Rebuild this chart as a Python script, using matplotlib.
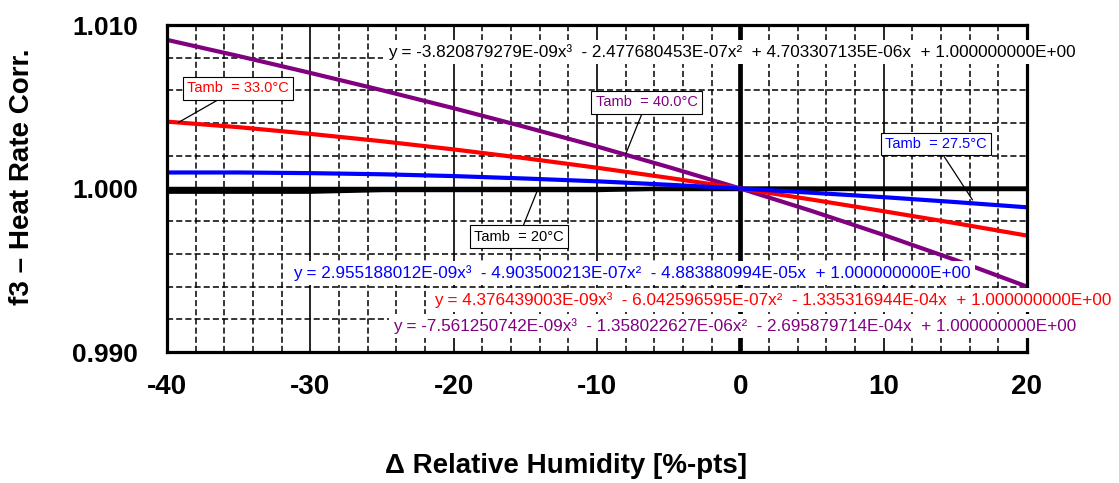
import matplotlib
matplotlib.use("Agg")
import matplotlib.pyplot as plt
from matplotlib.ticker import MultipleLocator, FixedLocator

plt.rcParams['font.family'] = ['Liberation Sans', 'DejaVu Sans']
plt.rcParams['axes.unicode_minus'] = False

# Change in relative humidity [%-pts]
delta_rh = [-40, -35, -30, -25, -20, -15, -10, -5, 0, 5, 10, 15, 20]

# Heat rate correction factor f3 per ambient temperature
f3_20 = [0.9998, 0.9998, 0.9998, 0.9999, 0.9999, 0.9999, 0.9999, 1.0000,
         1.0000, 1.0000, 1.0000, 1.0000, 1.0000]
f3_275 = [1.00098, 1.00098, 1.00094, 1.00087, 1.00076, 1.00061, 1.00044,
          1.00023, 1.00000, 0.99974, 0.99947, 0.99917, 0.99885]
f3_33 = [1.00409, 1.00375, 1.00334, 1.00289, 1.00239, 1.00185, 1.00127,
         1.00065, 1.00000, 0.99932, 0.99861, 0.99788, 0.99712]
f3_40 = [1.00909, 1.00810, 1.00707, 1.00601, 1.00491, 1.00376, 1.00257,
         1.00131, 1.00000, 0.99862, 0.99716, 0.99563, 0.99400]

series_labels = ["Tamb  = 20°C", "Tamb  = 27.5°C", "Tamb  = 33.0°C", "Tamb  = 40.0°C"]
equations = [
    "y = -3.820879279E-09x³  - 2.477680453E-07x²  + 4.703307135E-06x  + 1.000000000E+00",
    "y = 2.955188012E-09x³  - 4.903500213E-07x²  - 4.883880994E-05x  + 1.000000000E+00",
    "y = 4.376439003E-09x³  - 6.042596595E-07x²  - 1.335316944E-04x  + 1.000000000E+00",
    "y = -7.561250742E-09x³  - 1.358022627E-06x²  - 2.695879714E-04x  + 1.000000000E+00",
]
x_ticks = [-40, -30, -20, -10, 0, 10, 20]
y_ticks = [0.990, 1.000, 1.010]
y_tick_labels = ["0.990", "1.000", "1.010"]

BLACK, BLUE, RED, PURPLE = "#000000", "#0000FF", "#FF0000", "#800080"

fig = plt.figure(figsize=(11.19, 4.83), dpi=100)
ax = fig.add_axes([0.14924, 0.27122, 0.76854, 0.67702])
ax.set_xlim(-40, 20)
ax.set_ylim(0.990, 1.010)

# grid: solid major verticals, dashed minor lines
ax.xaxis.set_major_locator(FixedLocator(x_ticks))
ax.xaxis.set_minor_locator(MultipleLocator(2))
ax.yaxis.set_major_locator(FixedLocator(y_ticks))
ax.yaxis.set_minor_locator(MultipleLocator(0.002))
ax.set_yticklabels(y_tick_labels)
ax.xaxis.grid(True, which='major', color='black', lw=1.2, ls='-', zorder=1)
ax.xaxis.grid(True, which='minor', color='black', lw=1.1, ls=(0, (4, 2)), zorder=1)
ax.yaxis.grid(True, which='minor', color='black', lw=1.1, ls=(0, (4, 2)), zorder=1)
ax.set_axisbelow(True)

# crossing axes at x = 0 and y = 1.000
ax.axhline(1.0, color='black', lw=3.2, zorder=2)
ax.axvline(0.0, color='black', lw=3.4, zorder=2)

ax.plot(delta_rh, f3_20, color=BLACK, lw=3, zorder=3)
ax.plot(delta_rh, f3_40, color=PURPLE, lw=3, zorder=3)
ax.plot(delta_rh, f3_33, color=RED, lw=3, zorder=3)
ax.plot(delta_rh, f3_275, color=BLUE, lw=3, zorder=3)

for s in ax.spines.values():
    s.set_linewidth(2.3)
    s.set_zorder(4)

ax.tick_params(which='both', length=0)
ax.tick_params(axis='x', pad=16)
ax.tick_params(axis='y', pad=21)
for lab in ax.get_xticklabels():
    lab.set_fontsize(20)
    lab.set_fontweight('bold')
for lab in ax.get_yticklabels():
    lab.set_fontsize(19)
    lab.set_fontweight('bold')

fig.text(22 / 1119, 1 - 177 / 483, "f3 – Heat Rate Corr.", rotation=90,
         ha='center', va='center', fontsize=20, fontweight='bold')
fig.text(566 / 1119, 1 - 466 / 483, "Δ Relative Humidity [%-pts]",
         ha='center', va='center', fontsize=20, fontweight='bold')

# trendline equations
eq_box = dict(boxstyle='square,pad=0.25', fc='white', ec='none')
eq_specs = [(-24.6, 1.00835, BLACK), (-31.2, 0.99483, BLUE),
            (-21.4, 0.99318, RED), (-24.2, 0.99159, PURPLE)]
for text, (x, y, c) in zip(equations, eq_specs):
    ax.text(x, y, text, color=c, fontsize=12.3, ha='left', va='center',
            bbox=eq_box, zorder=6, clip_on=False)

# series callouts
call_box = dict(boxstyle='square,pad=0.3', fc='white', ec='black', lw=0.8)
callouts = [
    (series_labels[0], BLACK, (-14.2, 0.99979), (-15.45, 0.99706)),
    (series_labels[1], BLUE, (16.2, 0.99930), (13.65, 1.00272)),
    (series_labels[2], RED, (-39.2, 1.00404), (-35.05, 1.00612)),
    (series_labels[3], PURPLE, (-8.0, 1.00210), (-6.55, 1.00526)),
]
for text, c, xy, xytext in callouts:
    ax.annotate(text, xy=xy, xytext=xytext, color=c, fontsize=10.5,
                ha='center', va='center', bbox=call_box, zorder=7,
                arrowprops=dict(arrowstyle='-', color='black', lw=0.9,
                                shrinkA=0, shrinkB=0))

fig.savefig("out.png", dpi=100)
